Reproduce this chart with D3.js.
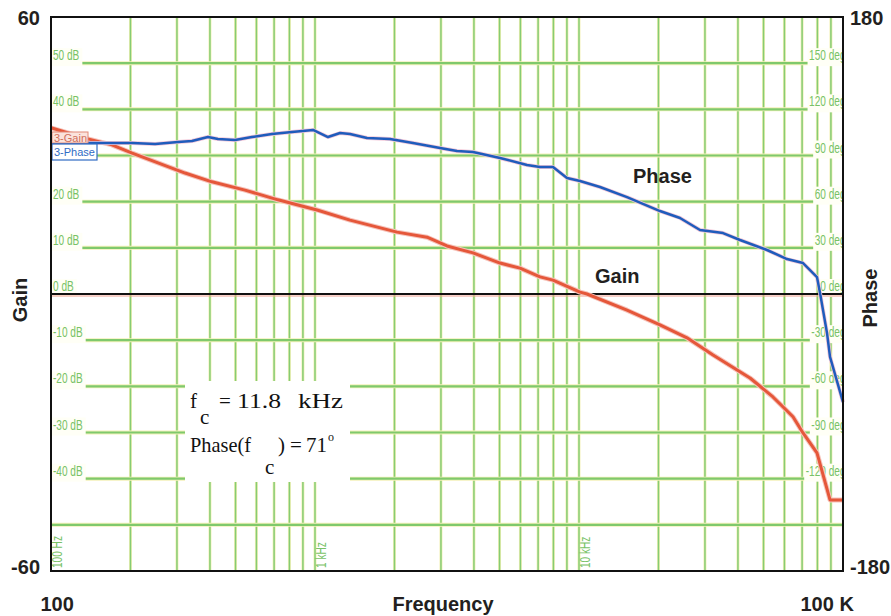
<!DOCTYPE html>
<html>
<head>
<meta charset="utf-8">
<script src="https://cdn.jsdelivr.net/npm/d3@7"></script>
<style>
  body { margin: 0; background: #fff; }
  svg { display: block; font-family: "Liberation Sans", Arial, sans-serif; }
  .big { font-size: 20px; font-weight: bold; fill: #231f20; }
  .gl { font-size: 14px; fill: #78c266; }
</style>
</head>
<body>
<svg id="chart"></svg>
<script>
// gain curve (red)
const gainFreq = [100, 138, 170, 203, 322, 407, 543, 724, 1018, 1357, 2045, 2657, 3162, 3967, 5022,
  5977, 7117, 7971, 10090, 10720, 15200, 20270, 25650, 32180, 44440, 54290, 64650, 70560, 79690, 89300, 100000];
const gainDb = [36.0, 33.6, 32.3, 30.5, 26.2, 24.3, 22.5, 20.4, 18.2, 16.0, 13.4, 12.3, 10.4, 8.9, 6.7,
  5.6, 3.7, 3.0, 0.4, 0.0, -3.5, -6.7, -9.5, -13.2, -18.2, -22.3, -26.6, -30.1, -34.4, -44.6, -44.6];

// phase curve (blue)
const phaseFreq = [100, 147, 203, 248, 303, 342, 393, 429, 498, 577, 687, 818, 983, 1120, 1244, 1357,
  1574, 1923, 2350, 2976, 3450, 3967, 5022, 6353, 7117, 7971, 9006, 10090, 12010, 15200, 20270,
  24130, 28730, 35130, 40720, 51530, 61370, 70560, 79690, 81850, 86970, 89300, 100000];
const phaseDeg = [98.1, 98.1, 98.1, 97.5, 98.8, 99.4, 102.0, 100.7, 100.1, 102.0, 104.0, 105.3, 106.6, 102.0, 104.6, 104.0,
  101.4, 100.7, 98.1, 94.9, 92.9, 92.3, 88.4, 83.8, 82.5, 82.5, 75.4, 73.4, 69.5, 63.0, 53.9,
  49.4, 41.6, 39.6, 35.1, 28.6, 22.7, 20.1, 11.0, 0.6, -25.3, -40.9, -70.2];

// grid
const gridFreqs = [200, 300, 400, 500, 600, 700, 800, 900, 1000, 2000, 3000, 4000, 5000, 6000, 7000, 8000, 9000,
  10000, 20000, 30000, 40000, 50000, 60000, 70000, 80000, 90000];
const gridDb = [50, 40, 30, 20, 10, -10, -20, -30, -40, -50];
const gainLabelVals = [50, 40, 20, 10, 0, -10, -20, -30, -40];
const phaseLabelVals = [150, 120, 90, 60, 30, 0, -30, -60, -90, -120];
const freqLabelVals = [100, 1000, 10000];
const freqLabelText = ["100 Hz", "1 kHz", "10 kHz"];

const width = 891, height = 616;
const svg = d3.select("#chart").attr("width", width).attr("height", height);

const x = d3.scaleLog().domain([100, 100000]).range([51, 843]);
const yGain = d3.scaleLinear().domain([-60, 60]).range([571, 17]);
const yPhase = d3.scaleLinear().domain([-180, 180]).range([571, 17]);

svg.append("clipPath").attr("id", "plotclip").append("rect")
  .attr("x", 51).attr("y", 17).attr("width", 792).attr("height", 554);

svg.append("rect").attr("x", 51).attr("y", 17).attr("width", 792).attr("height", 554).attr("fill", "#fff");

// vertical grid
const vg = svg.append("g");
vg.selectAll("line.h").data(gridFreqs).enter().append("line")
  .attr("x1", d => x(d)).attr("x2", d => x(d)).attr("y1", 17).attr("y2", 571)
  .attr("stroke", "#f3f1b8").attr("stroke-width", 3);
vg.selectAll("line.g").data(gridFreqs).enter().append("line")
  .attr("x1", d => x(d)).attr("x2", d => x(d)).attr("y1", 17).attr("y2", 571)
  .attr("stroke", "#86cc74").attr("stroke-width", 1.5);

// horizontal grid
const hg = svg.append("g");
hg.selectAll("line.h").data(gridDb).enter().append("line")
  .attr("x1", 51).attr("x2", 843).attr("y1", d => yGain(d)).attr("y2", d => yGain(d))
  .attr("stroke", "#f3f1b8").attr("stroke-width", 4);
hg.selectAll("line.g").data(gridDb).enter().append("line")
  .attr("x1", 51).attr("x2", 843).attr("y1", d => yGain(d)).attr("y2", d => yGain(d))
  .attr("stroke", "#7fc96c").attr("stroke-width", 2.2);

// squeeze a label to a narrow look
function narrow(t) {
  var n = t.node();
  var w = n.getComputedTextLength() * 0.72;
  t.attr("textLength", w).attr("lengthAdjust", "spacingAndGlyphs");
  return w;
}

// grid labels, left (dB) and right (deg)
const gl = svg.append("g").attr("clip-path", "url(#plotclip)");
gainLabelVals.forEach(function(v) {
  var yy = yGain(v);
  var r = gl.append("rect").attr("x", 52).attr("y", yy - 15).attr("height", 18).attr("fill", "#fffff6");
  var t = gl.append("text").attr("class", "gl").attr("x", 53).attr("y", yy - 3).text(v + " dB");
  var w = narrow(t);
  r.attr("width", w + 4);
});
phaseLabelVals.forEach(function(v) {
  var yy = yPhase(v);
  var r = gl.append("rect").attr("y", yy - 15).attr("height", 18).attr("fill", "#fffff6");
  var t = gl.append("text").attr("class", "gl").attr("x", 845.5).attr("y", yy - 3)
    .attr("text-anchor", "end").text(v + " deg");
  var w = narrow(t);
  r.attr("x", 844 - w).attr("width", w - 2);
});
freqLabelVals.forEach(function(v, i) {
  var t = gl.append("text").attr("class", "gl")
    .attr("transform", "translate(" + (x(v) + 11) + ",568) rotate(-90)")
    .text(freqLabelText[i]);
  narrow(t);
});

// zero line
svg.append("line").attr("x1", 51).attr("x2", 843).attr("y1", yGain(0) + 2).attr("y2", yGain(0) + 2)
  .attr("stroke", "#f0a090").attr("stroke-width", 1);
svg.append("line").attr("x1", 51).attr("x2", 843).attr("y1", yGain(0)).attr("y2", yGain(0))
  .attr("stroke", "#111").attr("stroke-width", 2);

// annotation box
const ann = svg.append("g").attr("font-family", "'Liberation Serif', 'Times New Roman', serif")
  .attr("font-size", 21).attr("fill", "#111");
ann.append("rect").attr("x", 185).attr("y", 381).attr("width", 165).attr("height", 101).attr("fill", "#fff");
ann.append("text").attr("x", 190).attr("y", 408).text("f");
ann.append("text").attr("x", 200).attr("y", 424).text("c");
ann.append("text").attr("x", 219).attr("y", 408).text("=");
ann.append("text").attr("x", 237).attr("y", 408).attr("textLength", 44).attr("lengthAdjust", "spacingAndGlyphs").text("11.8");
ann.append("text").attr("x", 298).attr("y", 408).attr("textLength", 45).attr("lengthAdjust", "spacingAndGlyphs").text("kHz");
ann.append("text").attr("x", 190).attr("y", 452).attr("textLength", 61).attr("lengthAdjust", "spacingAndGlyphs").text("Phase(f");
ann.append("text").attr("x", 265).attr("y", 474).text("c");
ann.append("text").attr("x", 278).attr("y", 452).text(")");
ann.append("text").attr("x", 290).attr("y", 452).text("=");
ann.append("text").attr("x", 306).attr("y", 452).text("71");
ann.append("text").attr("x", 328).attr("y", 441).attr("font-size", 12).text("o");

// curves
const gainLine = d3.line().x(d => x(d[0])).y(d => yGain(d[1]));
const phaseLine = d3.line().x(d => x(d[0])).y(d => yPhase(d[1]));
const gainPts = gainFreq.map((f, i) => [f, gainDb[i]]);
const phasePts = phaseFreq.map((f, i) => [f, phaseDeg[i]]);

svg.append("path").datum(gainPts).attr("d", gainLine).attr("fill", "none")
  .attr("stroke", "#f6c4bc").attr("stroke-width", 5).attr("stroke-linejoin", "round");
svg.append("path").datum(gainPts).attr("d", gainLine).attr("fill", "none")
  .attr("stroke", "#e5573a").attr("stroke-width", 3).attr("stroke-linejoin", "round");
svg.append("path").datum(phasePts).attr("d", phaseLine).attr("fill", "none")
  .attr("stroke", "#f2c8d8").attr("stroke-width", 4).attr("stroke-linejoin", "round");
svg.append("path").datum(phasePts).attr("d", phaseLine).attr("fill", "none")
  .attr("stroke", "#1f5cbc").attr("stroke-width", 2.5).attr("stroke-linejoin", "round");

// legend
const lg = svg.append("g").style("font-size", "11px");
lg.append("rect").attr("x", 52).attr("y", 132).attr("width", 36).attr("height", 11)
  .attr("fill", "#fbe3dc").attr("stroke", "#e08a78").attr("stroke-width", 1);
lg.append("text").attr("x", 54).attr("y", 141.5).attr("fill", "#d0705c").text("3-Gain");
lg.append("rect").attr("x", 52).attr("y", 144).attr("width", 45).attr("height", 16)
  .attr("fill", "#fff").attr("stroke", "#2f6cc4").attr("stroke-width", 1.2);
lg.append("text").attr("x", 54).attr("y", 156).attr("fill", "#2f6cc4").text("3-Phase");

// frame
svg.append("rect").attr("x", 51).attr("y", 17).attr("width", 792).attr("height", 554)
  .attr("fill", "none").attr("stroke", "#111").attr("stroke-width", 2);

// end-value axes
const axL = svg.append("g").attr("transform", "translate(51,0)")
  .call(d3.axisLeft(yGain).tickValues([-60, 60]).tickSize(0).tickPadding(11).tickFormat(d => String(d)));
const axR = svg.append("g").attr("transform", "translate(843,0)")
  .call(d3.axisRight(yPhase).tickValues([-180, 180]).tickSize(0).tickPadding(7).tickFormat(d => String(d)));
const axB = svg.append("g").attr("transform", "translate(0,611)")
  .call(d3.axisBottom(x).tickValues([100, 100000]).tickSize(0).tickPadding(0)
    .tickFormat(d => d === 100 ? "100" : "100 K"));
[axL, axR, axB].forEach(function(a) {
  a.select(".domain").remove();
  a.selectAll("text").attr("class", "big").attr("font-family", null).attr("font-size", null);
});
axL.selectAll("text").attr("dy", d => d > 0 ? "0.37em" : "0.1em");
axR.selectAll("text").attr("dy", d => d > 0 ? "0.37em" : "0.1em");
axB.selectAll("text").attr("dy", 0).attr("y", 0)
  .attr("text-anchor", "start").attr("x", d => d === 100 ? -11 : -43);

// titles
svg.append("text").attr("class", "big").attr("x", 443).attr("y", 611).attr("text-anchor", "middle").text("Frequency");
svg.append("text").attr("class", "big").attr("text-anchor", "middle")
  .attr("transform", "translate(27,300) rotate(-90)").text("Gain");
svg.append("text").attr("class", "big").attr("text-anchor", "middle")
  .attr("transform", "translate(877,298) rotate(-90)").text("Phase");
svg.append("text").attr("class", "big").attr("x", 633).attr("y", 183).text("Phase");
svg.append("text").attr("class", "big").attr("x", 595).attr("y", 283).text("Gain");
</script>
</body>
</html>
